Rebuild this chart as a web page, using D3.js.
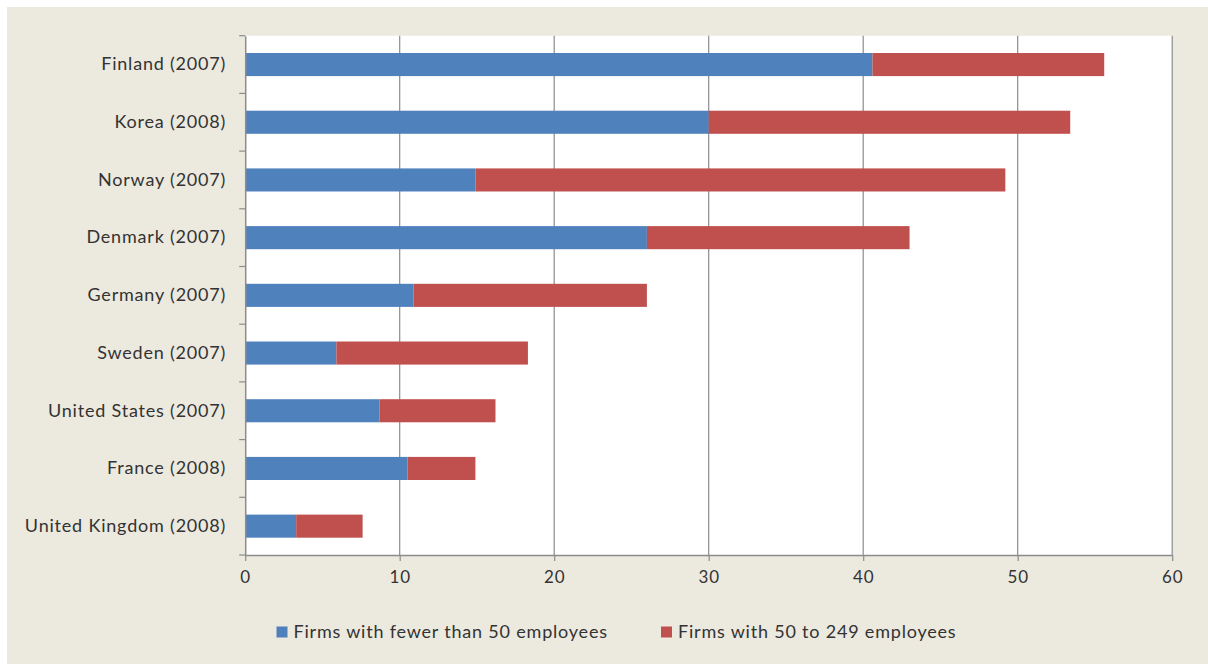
<!DOCTYPE html>
<html><head><meta charset="utf-8">
<script src="https://cdn.jsdelivr.net/npm/d3@7"></script>
<style>
html,body{margin:0;padding:0;background:#fff;}
svg{display:block;}
text{font-family:Lato,"Open Sans",sans-serif;fill:#333;}
</style></head>
<body>
<svg id="chart" width="1208" height="664"></svg>
<script>
const categories = ["Finland (2007)","Korea (2008)","Norway (2007)","Denmark (2007)","Germany (2007)","Sweden (2007)","United States (2007)","France (2008)","United Kingdom (2008)"];
const seriesNames = ["Firms with fewer than 50 employees","Firms with 50 to 249 employees"];
const small = [40.6, 30.0, 14.9, 26.0, 10.9, 5.9, 8.7, 10.5, 3.3];
const medium = [15.0, 23.4, 34.3, 17.0, 15.1, 12.4, 7.5, 4.4, 4.3];
const xTicks = [0,10,20,30,40,50,60];
const colors = ["#4F81BD","#C0504D"];

const svg = d3.select("#chart");
svg.append("rect").attr("x",7).attr("y",7).attr("width",1201).attr("height",657).attr("fill","#ECE9DF");

const m = {left:245.2, right:1172.2, top:35.7, bottom:555};
const x = d3.scaleLinear().domain([0,60]).range([m.left, m.right]);
const y = d3.scaleBand().domain(categories).range([m.top, m.bottom]).paddingInner(0.6).paddingOuter(0.3);

svg.append("rect").attr("x",m.left).attr("y",m.top).attr("width",m.right-m.left).attr("height",m.bottom-m.top).attr("fill","#fff");

// gridlines
svg.append("g").selectAll("line").data(xTicks.slice(1)).join("line")
  .attr("x1",d=>x(d)).attr("x2",d=>x(d)).attr("y1",m.top).attr("y2",m.bottom)
  .attr("stroke","#8c8c8c").attr("stroke-width",1.2);

const data = categories.map((c,i)=>({cat:c, vals:[small[i], medium[i]]}));
const stack = d3.stack().keys([0,1]).value((d,k)=>d.vals[k]);
const layers = stack(data);

svg.append("g").selectAll("g").data(layers).join("g")
  .attr("fill",(d,i)=>colors[i])
  .selectAll("rect").data(d=>d).join("rect")
  .attr("x",d=>x(d[0])).attr("width",d=>x(d[1])-x(d[0]))
  .attr("y",d=>y(d.data.cat)).attr("height",y.bandwidth());

const fontStyle = sel => sel.attr("font-size",18).style("fill","#333").style("font-family","Lato").style("letter-spacing","0.8px");

// x axis
const xAxis = d3.axisBottom(x).tickValues(xTicks).tickSize(6).tickPadding(10).tickSizeOuter(0);
const gx = svg.append("g").attr("transform",`translate(0,${m.bottom})`).call(xAxis);
gx.select(".domain").attr("stroke","#8c8c8c").attr("stroke-width",1.5);
gx.selectAll(".tick line").attr("stroke","#8c8c8c").attr("stroke-width",1.2);
gx.selectAll("text").call(fontStyle).attr("font-size",17);

// y axis
const yAxis = d3.axisLeft(y).tickSize(0).tickPadding(19);
const gy = svg.append("g").attr("transform",`translate(${m.left},0)`).call(yAxis);
gy.select(".domain").attr("stroke","#8c8c8c").attr("stroke-width",1.5);
gy.selectAll("text").call(fontStyle);
// category boundary ticks
const bounds = d3.range(categories.length+1).map(i=>m.top + i*(m.bottom-m.top)/categories.length);
svg.append("g").selectAll("line").data(bounds).join("line")
  .attr("x1",m.left-6).attr("x2",m.left).attr("y1",d=>d).attr("y2",d=>d)
  .attr("stroke","#8c8c8c").attr("stroke-width",1.2);

// legend
const legendX = [276.5, 661];
const lg = svg.append("g").selectAll("g").data(seriesNames).join("g")
  .attr("transform",(d,i)=>`translate(${legendX[i]},632)`);
lg.append("rect").attr("x",0).attr("y",-5.5).attr("width",11).attr("height",11).attr("fill",(d,i)=>colors[i]);
lg.append("text").attr("x",17).attr("y",0).attr("dy","0.35em").call(fontStyle).text(d=>d);
</script>
</body></html>
